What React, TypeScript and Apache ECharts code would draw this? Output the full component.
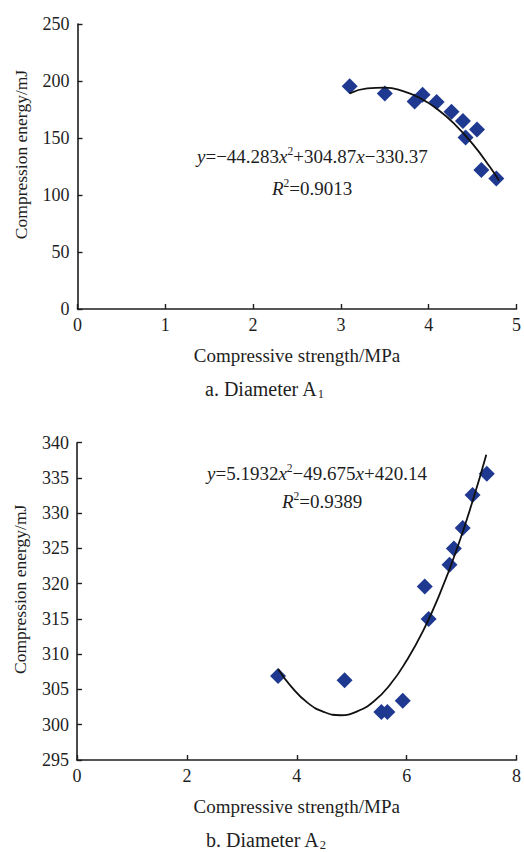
import React, { useEffect, useRef } from "react";
import * as echarts from "echarts";

// Chart a (Diameter A1)
const aStrength = [3.1, 3.5, 3.84, 3.93, 4.09, 4.26, 4.39, 4.55, 4.42, 4.6, 4.77];
const aEnergy = [195.5, 189, 182, 188, 181.5, 173, 165, 157.5, 150.5, 122, 114.5];
const aFitX = [3.1, 3.3, 3.5, 3.7, 3.9, 4.1, 4.3, 4.5, 4.7, 4.8];
const aFitY = [189.2, 193.5, 194.2, 191.4, 185.1, 175.2, 161.8, 144.8, 124.3, 112.7];
const aXTicks = [0, 1, 2, 3, 4, 5];
const aYTicks = [0, 50, 100, 150, 200, 250];

// Chart b (Diameter A2)
const bStrength = [3.66, 4.87, 5.54, 5.65, 5.93, 6.33, 6.4, 6.78, 6.86, 7.02, 7.2, 7.46];
const bEnergy = [306.9, 306.3, 301.8, 301.8, 303.4, 319.6, 315.0, 322.7, 325.0, 327.9, 332.6, 335.6];
const bFitX = [3.66, 3.9, 4.2, 4.5, 4.8, 5.1, 5.4, 5.7, 6.0, 6.3, 6.6, 6.9, 7.2, 7.45];
const bFitY = [307.9, 305.4, 303.1, 301.8, 301.35, 301.9, 303.3, 305.7, 309.1, 313.3, 318.5, 324.6, 331.7, 338.3];
const bXTicks = [0, 2, 4, 6, 8];
const bYTicks = [295, 300, 305, 310, 315, 320, 325, 330, 335, 340];

const FONT = "'Liberation Serif', 'Times New Roman', serif";
const INK = "#1e1e1e";
const MARK = "#1f3990";

function pairs(xs: number[], ys: number[]) {
  return xs.map((x, i) => [x, ys[i]]);
}

function xAxisCfg(gridIndex: number, ticks: number[]) {
  return {
    type: "value",
    gridIndex,
    min: ticks[0],
    max: ticks[ticks.length - 1],
    interval: ticks[1] - ticks[0],
    name: "Compressive strength/MPa",
    nameLocation: "middle",
    nameGap: 37,
    nameTextStyle: { fontFamily: FONT, fontSize: 19, color: INK },
    axisLine: { show: true, onZero: false, lineStyle: { color: INK, width: 1.6 } },
    axisTick: { show: true, inside: true, length: 5, lineStyle: { color: INK, width: 1.4 } },
    axisLabel: { fontFamily: FONT, fontSize: 18, color: INK, margin: 7 },
    splitLine: { show: false },
  };
}

function yAxisCfg(gridIndex: number, ticks: number[]) {
  return {
    type: "value",
    gridIndex,
    min: ticks[0],
    max: ticks[ticks.length - 1],
    interval: ticks[1] - ticks[0],
    name: "Compression energy/mJ",
    nameLocation: "middle",
    nameGap: 48,
    nameRotate: 90,
    nameTextStyle: { fontFamily: FONT, fontSize: 17.5, color: INK, padding: [0, 0, 0, 24] },
    axisLine: { show: true, onZero: false, lineStyle: { color: INK, width: 1.6 } },
    axisTick: { show: true, inside: true, length: 5, lineStyle: { color: INK, width: 1.4 } },
    axisLabel: { fontFamily: FONT, fontSize: 18, color: INK, margin: 8 },
    splitLine: { show: false },
  };
}

const eqRich = {
  i: { fontFamily: FONT, fontSize: 19, fontStyle: "italic", fill: INK },
  n: { fontFamily: FONT, fontSize: 19, fill: INK },
  sup: { fontFamily: FONT, fontSize: 11.5, fill: INK, padding: [0, 0, 10, 0] },
};

const capRich = {
  c: { fontFamily: FONT, fontSize: 20, fill: INK },
  sub: { fontFamily: FONT, fontSize: 12.5, fill: INK, padding: [9, 0, 0, 0] },
};

export default function App() {
  const ref = useRef<HTMLDivElement>(null);
  useEffect(() => {
    if (!ref.current) return;
    const chart = echarts.init(ref.current, undefined, { renderer: "svg" });
    chart.setOption({
      animation: false,
      backgroundColor: "#ffffff",
      grid: [
        { left: 77.5, top: 24, width: 440, height: 285 },
        { left: 77, top: 442.7, width: 442, height: 317.3 },
      ],
      xAxis: [xAxisCfg(0, aXTicks), xAxisCfg(1, bXTicks)],
      yAxis: [yAxisCfg(0, aYTicks), yAxisCfg(1, bYTicks)],
      series: [
        {
          type: "line",
          xAxisIndex: 0,
          yAxisIndex: 0,
          data: pairs(aFitX, aFitY),
          smooth: true,
          showSymbol: false,
          lineStyle: { color: "#111", width: 1.8 },
          z: 3,
        },
        {
          type: "scatter",
          xAxisIndex: 0,
          yAxisIndex: 0,
          data: pairs(aStrength, aEnergy),
          symbol: "diamond",
          symbolSize: 16,
          itemStyle: { color: MARK, opacity: 1 },
          z: 2,
        },
        {
          type: "line",
          xAxisIndex: 1,
          yAxisIndex: 1,
          data: pairs(bFitX, bFitY),
          smooth: true,
          showSymbol: false,
          lineStyle: { color: "#111", width: 1.8 },
          z: 3,
        },
        {
          type: "scatter",
          xAxisIndex: 1,
          yAxisIndex: 1,
          data: pairs(bStrength, bEnergy),
          symbol: "diamond",
          symbolSize: 16,
          itemStyle: { color: MARK, opacity: 1 },
          z: 2,
        },
      ],
      graphic: [
        {
          type: "text",
          left: 197,
          top: 145,
          style: {
            text: "{i|y}{n|=−44.283}{i|x}{sup|2}{n|+304.87}{i|x}{n|−330.37}",
            rich: eqRich,
          },
        },
        {
          type: "text",
          left: 272,
          top: 177,
          style: { text: "{i|R}{sup|2}{n|=0.9013}", rich: eqRich },
        },
        {
          type: "text",
          left: 207,
          top: 462,
          style: {
            text: "{i|y}{n|=5.1932}{i|x}{sup|2}{n|−49.675}{i|x}{n|+420.14}",
            rich: eqRich,
          },
        },
        {
          type: "text",
          left: 282,
          top: 490,
          style: { text: "{i|R}{sup|2}{n|=0.9389}", rich: eqRich },
        },
        {
          type: "text",
          left: 205,
          top: 379,
          style: { text: "{c|a. Diameter A}{sub|1}", rich: capRich },
        },
        {
          type: "text",
          left: 206,
          top: 830,
          style: { text: "{c|b. Diameter A}{sub|2}", rich: capRich },
        },
      ],
    });
    return () => chart.dispose();
  }, []);
  return (
    <div
      ref={ref}
      style={{ position: "fixed", left: 0, top: 0, width: 524, height: 852, background: "#fff" }}
    />
  );
}
